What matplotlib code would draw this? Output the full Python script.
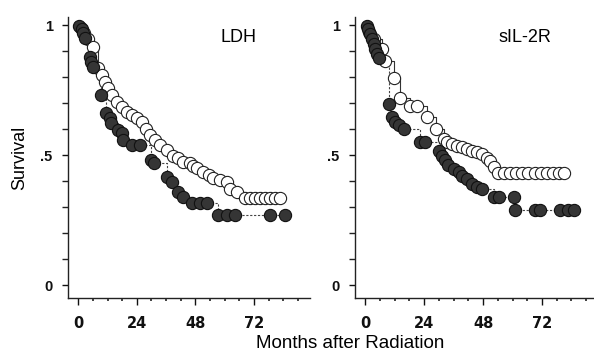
import numpy as np
import matplotlib
matplotlib.use("Agg")
import matplotlib.pyplot as plt
from matplotlib.ticker import MultipleLocator, FixedLocator

# ---------------- data ----------------
panel_titles = ["LDH", "sIL-2R"]
xtick_values = [0, 24, 48, 72]
xtick_labels = ["0", "24", "48", "72"]
ytick_values = [0, 0.5, 1]
ytick_labels = ["0", ".5", "1"]

# LDH, high (filled)
ldh_high_t = [0.5, 1.4, 2.0, 2.7, 4.7, 5.3, 6.0, 9.5, 11.5, 12.9, 13.5, 16.3, 17.8,
              18.4, 21.9, 25.3, 30.0, 31.0, 36.2, 38.3, 41.0, 43.0, 46.5, 49.9,
              52.6, 57.4, 60.8, 64.2, 78.6, 84.7]
ldh_high_s = [0.995, 0.985, 0.968, 0.949, 0.878, 0.859, 0.840, 0.731, 0.660, 0.641,
              0.622, 0.596, 0.583, 0.558, 0.538, 0.538, 0.480, 0.468, 0.417, 0.397,
              0.359, 0.340, 0.314, 0.314, 0.314, 0.269, 0.269, 0.269, 0.269, 0.269]

# LDH, low (open)
ldh_low_t = [1.0, 2.5, 4.0, 6.0, 8.2, 9.6, 10.9, 12.3, 13.7, 15.7, 17.8, 19.8, 21.9,
             23.9, 26.0, 27.8, 29.4, 31.4, 33.5, 36.2, 38.9, 41.0, 43.0, 45.8, 47.1,
             48.5, 51.2, 53.5, 55.3, 58.0, 60.8, 62.0, 64.9, 68.3, 70.4, 72.5, 74.5,
             76.5, 78.6, 80.6, 82.6]
ldh_low_s = [0.990, 0.970, 0.945, 0.917, 0.833, 0.808, 0.782, 0.757, 0.731, 0.705,
             0.686, 0.667, 0.654, 0.641, 0.628, 0.600, 0.577, 0.558, 0.538, 0.519,
             0.497, 0.487, 0.474, 0.468, 0.458, 0.452, 0.436, 0.425, 0.410, 0.403,
             0.397, 0.370, 0.359, 0.333, 0.333, 0.333, 0.333, 0.333, 0.333, 0.333,
             0.333]

# sIL-2R, high (filled)
il2_high_t = [0.5, 1.3, 2.0, 2.7, 3.4, 4.1, 4.8, 5.4, 9.5, 10.9, 12.2, 13.6, 15.6,
              22.4, 24.4, 29.9, 31.2, 32.6, 33.9, 36.0, 38.0, 39.4, 41.4, 43.5,
              45.5, 47.5, 52.3, 54.3, 60.4, 61.1, 69.3, 71.3, 79.5, 82.8, 84.9]
il2_high_s = [0.995, 0.983, 0.964, 0.945, 0.926, 0.907, 0.888, 0.875, 0.696, 0.645,
              0.626, 0.617, 0.600, 0.549, 0.549, 0.517, 0.498, 0.479, 0.460, 0.447,
              0.434, 0.421, 0.408, 0.390, 0.377, 0.371, 0.338, 0.338, 0.338, 0.287,
              0.287, 0.287, 0.287, 0.287, 0.287]

# sIL-2R, low (open)
il2_low_t = [1.5, 3.5, 6.8, 8.1, 11.5, 14.3, 18.3, 21.1, 25.1, 29.0, 32.0, 33.3,
             35.3, 37.3, 39.4, 41.4, 43.5, 45.5, 47.5, 49.6, 50.9, 52.3, 54.0, 56.5,
             59.0, 61.5, 64.0, 66.5, 69.0, 71.5, 74.0, 76.5, 79.0, 81.0]
il2_low_s = [0.975, 0.945, 0.907, 0.862, 0.798, 0.721, 0.690, 0.690, 0.645, 0.600,
             0.562, 0.549, 0.543, 0.536, 0.530, 0.523, 0.517, 0.510, 0.504, 0.490,
             0.478, 0.453, 0.430, 0.430, 0.430, 0.430, 0.430, 0.430, 0.430, 0.430,
             0.430, 0.430, 0.430, 0.430]

panels = [
    (ldh_low_t, ldh_low_s, ldh_high_t, ldh_high_s),
    (il2_low_t, il2_low_s, il2_high_t, il2_high_s),
]

# ---------------- figure ----------------
plt.rcParams['font.family'] = ['Liberation Sans', 'DejaVu Sans']
W, H = 594, 358
fig = plt.figure(figsize=(W / 100, H / 100), dpi=100)

axes_px = [(68, 310), (355, 594)]
px_per_month = [2.44, 2.454]
top_px, bot_px = 17, 298
title_pos = [(238, 37), (525, 37)]

for i, (lt, ls, ht, hs) in enumerate(panels):
    x0, x1 = axes_px[i]
    ax = fig.add_axes([x0 / W, 1 - bot_px / H, (x1 - x0) / W, (bot_px - top_px) / H])
    ax.set_xlim(-4.2, -4.2 + (x1 - x0) / px_per_month[i])
    ax.set_ylim(-0.05, 1.031)

    # open series
    ax.step([0] + list(lt), [1.0] + list(ls), where='post', color='#333333',
            lw=0.8, zorder=2)
    ax.plot(lt, ls, 'o', ms=8.8, mfc='white', mec='#222222', mew=0.8, zorder=3)
    # filled series
    ax.step([0] + list(ht), [1.0] + list(hs), where='post', color='#444444',
            lw=0.8, ls=(0, (2, 1.5)), zorder=2)
    ax.plot(ht, hs, 'o', ms=8.8, mfc='#353535', mec='#111111', mew=0.8, zorder=4)

    for s in ['top', 'right']:
        ax.spines[s].set_visible(False)
    for s in ['left', 'bottom']:
        ax.spines[s].set_linewidth(1.0)
        ax.spines[s].set_color('#222222')

    ax.xaxis.set_major_locator(FixedLocator(xtick_values))
    ax.set_xticklabels(xtick_labels, fontsize=10.5, fontweight='bold',
                       family=['DejaVu Sans'])
    ax.xaxis.set_minor_locator(FixedLocator([m for m in range(6, 91, 6)
                                             if m % 24 != 0]))
    ax.tick_params(axis='x', which='major', direction='out', length=5, width=1,
                   pad=8, colors='#111111')
    ax.tick_params(axis='x', which='minor', direction='out', length=2.5,
                   width=1.2, colors='#222222')

    ax.yaxis.set_major_locator(FixedLocator(ytick_values))
    ax.set_yticklabels(ytick_labels, fontsize=10.5, fontweight='bold')
    ax.yaxis.set_minor_locator(FixedLocator([v / 10 for v in range(1, 10)
                                             if v != 5]))
    ax.tick_params(axis='y', which='major', direction='out', length=4, width=1,
                   pad=7, colors='#111111')
    ax.tick_params(axis='y', which='minor', direction='out', length=4, width=1,
                   colors='#222222')

    tx, ty = title_pos[i]
    fig.text(tx / W, 1 - ty / H, panel_titles[i], ha='center', va='center',
             fontsize=13)

fig.text(20 / W, 1 - 158 / H, "Survival", rotation=90, ha='center',
         va='center', fontsize=13)
fig.text(350 / W, 1 - 343 / H, "Months after Radiation", ha='center',
         va='center', fontsize=13.5)

fig.savefig("out.png", dpi=100)
